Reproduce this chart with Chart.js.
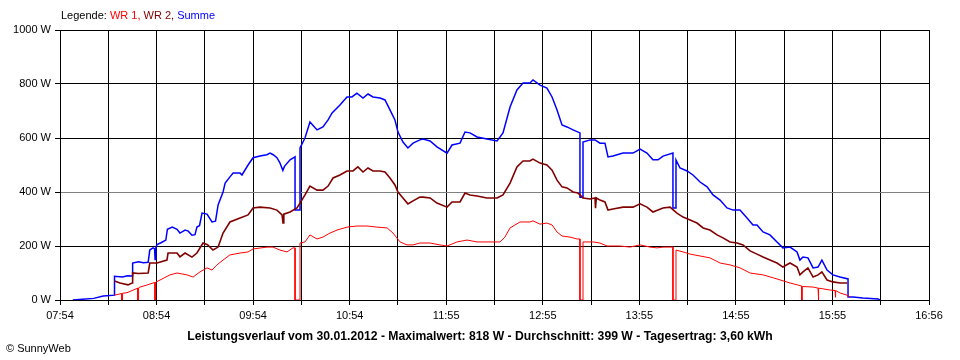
<!DOCTYPE html>
<html>
<head>
<meta charset="utf-8">
<script src="https://cdn.jsdelivr.net/npm/chart.js@4.4.1/dist/chart.umd.min.js"></script>
<style>
  html, body { margin: 0; padding: 0; background: #fff; }
  #wrap { width: 960px; height: 360px; }
</style>
</head>
<body>
<div id="wrap"><canvas id="c" width="960" height="360"></canvas></div>
<script>
// ---- data (time in minutes after midnight, power in W) ----
const xMin = 474;   // 07:54
const xMax = 1016;  // 16:56
const xTickLabels = ['07:54','','08:54','','09:54','','10:54','','11:55','','12:55','','13:55','','14:55','','15:55','','16:56'];
const yTicks = [0, 200, 400, 600, 800, 1000];

const sumT = [482,488,495,501,508,508,513,516,519,519.3,523,526,529,530,532,533,533.3,533.8,534.5,537,540,541,544,547,548.8,552,554,556.3,558.2,559.4,561,562.6,565.7,568.8,571,572.6,575.7,577,580,582,586.3,587.5,591.3,594.4,598.7,603,605,607,609.3,611,613,614,617.5,620.6,620.6,623.7,623.7,626.8,629.9,632,634.3,638,641.2,643.7,648.6,653,656.1,659.2,663,666.1,669.2,673.6,676.7,679.8,682.9,684.8,687.9,691,694.2,698.5,700.4,704.8,709.1,715.4,718.5,723.5,726.6,729.7,734.1,740.3,746.6,750.3,754.7,759,762.8,767.1,769,773.4,777.7,780.9,784,787.1,790.2,794,798.3,798.3,800.2,800.2,804.6,807.7,810.8,813.9,815.8,818.9,825.2,831.4,835.8,840.1,843.8,847,850.1,856.3,856.3,858.2,858.2,860.7,865.1,868.8,873.2,877.6,881.3,885.7,890,893.8,898.1,902.5,906.2,908.7,912.5,916.8,921.2,924.9,929.3,933.7,935.5,937.4,940.5,943.7,946.8,949.2,952.4,956.1,960.5,965.5,965.5,968.6,974.8,984.2,985.4];
const sumW = [0,3,6,15,18,88,85,90,89,137,142,138,140,185,193,190,150,195,205,212,222,262,270,262,248,259,255,240,242,270,275,322,318,289,292,352,400,433,456,470,470,463,500,527,533,538,544,538,527,510,480,495,519,530,333,333,563,600,659,645,630,641,667,693,722,752,752,766,748,763,752,748,741,704,667,622,585,563,581,593,596,589,567,544,574,581,622,619,604,596,589,619,715,778,804,804,815,796,785,752,704,648,641,630,619,381,381,585,593,593,581,581,530,533,544,544,559,544,519,519,533,544,341,341,519,489,478,463,437,419,389,370,341,333,333,304,278,278,252,241,215,193,196,178,148,159,156,119,122,148,111,93,85,78,11,11,7,4,0];

const wr2T = [508,511.4,516.4,519,519.3,523,529,530,534.5,540.7,541.4,547,548.8,552,556.3,559.4,563.2,566,569.4,572.6,575.7,580,586.3,591.3,594.4,598.7,605,609.3,612.5,613.1,613.6,617.5,621.8,623.7,626.8,629.9,634.3,638,641.2,644.3,648.6,653,656.7,659.8,663,666.1,669.2,673.6,676.7,679.8,682.9,684.8,687.9,691,694.2,698.5,700.4,704.8,709.1,715.4,718.5,723.5,726.6,729.7,734.1,740.3,746.6,750.3,754.7,759,762.8,767.1,769,773.4,777.7,780.9,784,787.1,790.2,794,797.1,800.2,804.6,807.7,808,808.5,810.8,813.9,815.8,818.9,825.2,831.4,835.8,840.1,843.8,847,850.1,854.5,858.8,862.6,867,871.3,875.1,879.4,883.8,887.5,891.9,896.3,900,904.4,908.7,912.5,916.8,921.2,924.9,929.3,933.7,935.5,937.4,940.5,943.7,946.8,949.2,952.4,956.1,960.5,965];
const wr2W = [70,63,56,63,100,98,100,137,137,148,174,174,160,174,159,174,211,205,185,196,248,289,304,315,341,344,341,333,315,285,318,326,341,359,389,422,407,407,422,452,463,478,478,493,474,489,478,478,474,452,426,400,378,356,367,381,381,378,359,344,363,363,396,389,385,378,378,389,433,493,515,515,522,507,500,481,444,419,415,400,396,378,374,378,340,378,370,363,333,337,344,344,356,344,326,333,341,344,322,307,296,285,267,259,241,230,215,211,204,182,170,159,148,137,122,137,122,93,104,119,85,93,104,74,67,63,63];

const wr1T = [508,512.5,512.5,513,513,515.8,522.5,522.5,523,523,523.9,528,532,533.2,533.2,533.7,533.7,536.4,542.6,547,553.2,557,561.3,565.7,568.8,571.9,575.7,580,586.3,591.3,594.4,603.1,606.8,611.2,615.6,619.3,620.6,620.6,623.7,623.7,626.8,629.9,634.3,638,642.4,646.8,653,659.2,665.5,671.7,678,681.7,686.1,690.4,694.2,698.5,704.8,711,715.4,721.6,727.9,734.1,740.3,748.4,751.5,754.7,760.9,767.1,769,773.4,777.7,780.9,784,787.1,792.1,796.5,798.3,798.3,800.2,800.2,806.4,810.8,815.2,823.3,829.5,835.8,842,846.3,850.1,856.3,856.3,858.2,858.2,862.6,867,873.2,879.4,885.7,891.9,898.1,904.4,912.5,921.2,929.3,936.5,936.5,937,937,943.7,946.8,946.8,947.3,947.3,954.2,957.4,957.4,957.9,957.9,960.5,964.9,966.7];
const wr1W = [18,24,0,0,25,27,44,0,0,45,48,55,63,65,0,0,66,74,93,100,93,85,104,119,111,130,148,167,174,178,189,196,196,185,178,193,193,0,0,211,215,241,226,233,248,259,270,274,274,270,267,248,215,204,204,211,211,204,200,215,222,215,215,215,233,267,289,289,293,281,285,278,252,237,233,226,226,0,0,215,215,211,200,200,196,204,196,193,196,196,0,0,185,178,170,163,156,137,130,119,100,93,78,63,52,0,0,50,48,44,0,0,44,37,35,10,10,35,26,18,11];

const colWR1 = '#ff0000';
const colWR2 = '#800000';
const colSum = '#0000ff';

const titleText = 'Leistungsverlauf vom 30.01.2012 - Maximalwert: 818 W - Durchschnitt: 399 W - Tagesertrag: 3,60 kWh';
const copyText = '\u00A9 SunnyWeb';

function pts(t, w) { return t.map((x, i) => ({ x: x, y: w[i] })); }

const FONT = '"Liberation Sans", Arial, sans-serif';
Chart.defaults.font.family = FONT;
Chart.defaults.font.size = 11;
Chart.defaults.color = '#000';

const textPlugin = {
  id: 'texts',
  afterDraw(chart) {
    const ctx = chart.ctx;
    ctx.save();
    ctx.textBaseline = 'middle';
    ctx.font = '11px ' + FONT;
    let x = 61;
    const parts = [['Legende: ', '#000'], ['WR 1, ', colWR1], ['WR 2, ', colWR2], ['Summe', colSum]];
    parts.forEach(p => {
      ctx.fillStyle = p[1];
      ctx.textAlign = 'left';
      ctx.fillText(p[0], x, 16);
      x += ctx.measureText(p[0]).width;
    });
    ctx.fillStyle = '#000';
    ctx.textAlign = 'center';
    ctx.font = 'bold 12.2px ' + FONT;
    ctx.fillText(titleText, 480, 337);
    ctx.textAlign = 'left';
    ctx.font = '11px ' + FONT;
    ctx.fillText(copyText, 6, 349);
    ctx.restore();
  }
};

new Chart(document.getElementById('c'), {
  type: 'line',
  data: {
    datasets: [
      { label: 'WR 1', data: pts(wr1T, wr1W), borderColor: colWR1, borderWidth: 1, order: 1 },
      { label: 'WR 2', data: pts(wr2T, wr2W), borderColor: colWR2, borderWidth: 1.6, order: 2 },
      { label: 'Summe', data: pts(sumT, sumW), borderColor: colSum, borderWidth: 1.5, order: 3 }
    ]
  },
  options: {
    responsive: false,
    animation: false,
    parsing: false,
    normalized: true,
    elements: { point: { radius: 0 }, line: { tension: 0, fill: false } },
    layout: { padding: { top: 30, right: 31, left: 0, bottom: 0 } },
    plugins: { legend: { display: false }, tooltip: { enabled: false }, title: { display: false } },
    scales: {
      x: {
        type: 'linear',
        min: xMin,
        max: xMax,
        afterBuildTicks(scale) {
          scale.ticks = xTickLabels.map((l, i) => ({ value: xMin + i * (xMax - xMin) / (xTickLabels.length - 1) }));
        },
        afterFit(scale) { scale.height = 60; },
        ticks: {
          autoSkip: false,
          maxRotation: 0,
          padding: 4,
          color: '#000',
          callback: (v, i) => xTickLabels[i]
        },
        grid: { color: '#000', lineWidth: 1, tickLength: 5, drawOnChartArea: true },
        border: { display: true, color: '#000', width: 1 }
      },
      y: {
        type: 'linear',
        min: 0,
        max: 1000,
        afterBuildTicks(scale) { scale.ticks = yTicks.map(v => ({ value: v })); },
        afterFit(scale) { scale.width = 60; },
        ticks: { padding: 4, color: '#000', callback: v => v + ' W' },
        grid: {
          color: ctx => (ctx.tick && ctx.tick.value === 400) ? '#808080' : '#000',
          tickColor: '#000',
          lineWidth: 1,
          tickLength: 5
        },
        border: { display: true, color: '#000', width: 1 }
      }
    }
  },
  plugins: [textPlugin]
});
</script>
</body>
</html>
